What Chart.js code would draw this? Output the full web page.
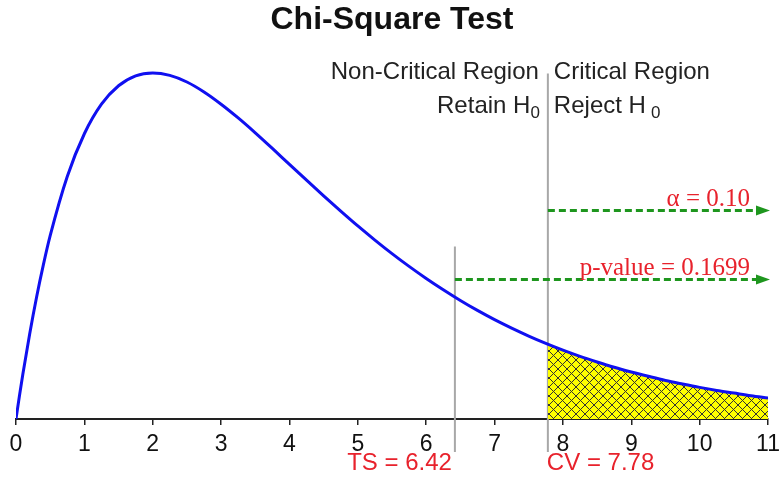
<!DOCTYPE html>
<html>
<head>
<meta charset="utf-8">
<script src="https://cdn.jsdelivr.net/npm/chart.js@4"></script>
<style>
  html, body { margin: 0; padding: 0; background: #fff; }
  #wrap { width: 780px; height: 477px; }
</style>
</head>
<body>
<div id="wrap"><canvas id="chiChart"></canvas></div>
<script>
// chi-square density
const chiX = [0, 0.05, 0.1, 0.2, 0.3, 0.4, 0.5, 0.75, 1, 1.25, 1.5, 1.75, 2, 2.25, 2.5, 2.75, 3, 3.25, 3.5, 3.75,
  4, 4.25, 4.5, 4.75, 5, 5.25, 5.5, 5.75, 6, 6.25, 6.5, 6.75, 7, 7.25, 7.5, 7.75, 8, 8.25, 8.5, 8.75,
  9, 9.25, 9.5, 9.75, 10, 10.25, 10.5, 10.75, 11];
const chiY = [0, 0.0122, 0.0238, 0.0452, 0.0646, 0.0819, 0.0974, 0.1289, 0.1516, 0.1673, 0.1771, 0.1824, 0.1839, 0.1826, 0.1791, 0.1738,
  0.1673, 0.1600, 0.1521, 0.1438, 0.1353, 0.1269, 0.1186, 0.1105, 0.1026, 0.0951, 0.0879, 0.0811, 0.0747, 0.0687, 0.0630, 0.0577,
  0.0528, 0.0483, 0.0441, 0.0402, 0.0366, 0.0333, 0.0303, 0.0275, 0.0250, 0.0227, 0.0205, 0.0186, 0.0168, 0.0152, 0.0138, 0.0124, 0.0112];

// shaded tail (critical region)
const tailX = [7.78, 8, 8.25, 8.5, 8.75, 9, 9.25, 9.5, 9.75, 10, 10.25, 10.5, 10.75, 11];
const tailY = [0.0398, 0.0366, 0.0333, 0.0303, 0.0275, 0.0250, 0.0227, 0.0205, 0.0186, 0.0168, 0.0152, 0.0138, 0.0124, 0.0112];

const xTicks = [0, 1, 2, 3, 4, 5, 6, 7, 8, 9, 10, 11];
const testStat = 6.42;
const critValue = 7.78;
const alphaText = 'α = 0.10';
const pValueText = 'p-value = 0.1699';

const red = 'rgb(232, 34, 44)';
const green = 'rgb(30, 150, 30)';

function hatchPattern() {
  const s = 9;
  const c = document.createElement('canvas');
  c.width = s; c.height = s;
  const g = c.getContext('2d');
  g.fillStyle = '#ffff00';
  g.fillRect(0, 0, s, s);
  g.strokeStyle = '#333';
  g.lineWidth = 1;
  g.beginPath();
  g.moveTo(0, 0); g.lineTo(s, s);
  g.moveTo(0, s); g.lineTo(s, 0);
  g.stroke();
  return g.createPattern(c, 'repeat');
}

function arrow(ctx, x0, x1, y) {
  ctx.save();
  ctx.strokeStyle = green;
  ctx.fillStyle = green;
  ctx.lineWidth = 3;
  ctx.setLineDash([7, 4]);
  ctx.beginPath();
  ctx.moveTo(x0, y); ctx.lineTo(x1 - 10, y);
  ctx.stroke();
  ctx.setLineDash([]);
  ctx.beginPath();
  ctx.moveTo(x1, y); ctx.lineTo(x1 - 14, y - 5); ctx.lineTo(x1 - 14, y + 5);
  ctx.closePath();
  ctx.fill();
  ctx.restore();
}

// text with subscript 0, anchored left or right
function withSub(ctx, text, x, y, align, gap) {
  ctx.font = '24px Arial';
  const w = ctx.measureText(text).width;
  ctx.font = '17px Arial';
  const ws = ctx.measureText('0').width;
  const left = align === 'right' ? x - w - gap - ws : x;
  ctx.textAlign = 'left';
  ctx.font = '24px Arial';
  ctx.fillText(text, left, y);
  ctx.font = '17px Arial';
  ctx.fillText('0', left + w + gap, y + 7);
}

const overlay = {
  id: 'overlay',
  beforeDatasetsDraw(chart) {
    const { ctx, chartArea, scales: { x } } = chart;
    const ts = x.getPixelForValue(testStat);
    const cv = x.getPixelForValue(critValue);
    ctx.save();
    ctx.strokeStyle = '#a8a8a8';
    ctx.lineWidth = 2;
    ctx.beginPath();
    ctx.moveTo(cv, chartArea.top + 17); ctx.lineTo(cv, chartArea.bottom + 33);
    ctx.moveTo(ts, chartArea.top + 190); ctx.lineTo(ts, chartArea.bottom + 33);
    ctx.stroke();
    ctx.restore();
  },
  afterDraw(chart) {
    const { ctx, chartArea, scales: { x } } = chart;
    const ts = x.getPixelForValue(testStat);
    const cv = x.getPixelForValue(critValue);
    const top = chartArea.top;
    ctx.save();
    ctx.textBaseline = 'middle';
    ctx.fillStyle = '#222';
    ctx.font = '24px Arial';
    ctx.textAlign = 'right';
    ctx.fillText('Non-Critical Region', cv - 9, top + 16);
    ctx.textAlign = 'left';
    ctx.fillText('Critical Region', cv + 6, top + 16);
    withSub(ctx, 'Retain H', cv - 8, top + 50, 'right', 0);
    withSub(ctx, 'Reject H', cv + 6, top + 50, 'left', 5);

    arrow(ctx, cv, chartArea.right + 2, top + 154);
    arrow(ctx, ts, chartArea.right + 2, top + 223);

    ctx.fillStyle = red;
    ctx.font = '25px "Liberation Serif", "Times New Roman", serif';
    ctx.textAlign = 'right';
    ctx.textBaseline = 'alphabetic';
    ctx.fillText(alphaText, chartArea.right - 18, top + 150);
    ctx.fillText(pValueText, chartArea.right - 18, top + 219);

    ctx.textBaseline = 'middle';
    ctx.font = '24px Arial';
    ctx.textAlign = 'right';
    ctx.fillText('TS = ' + testStat.toFixed(2), ts - 3, chartArea.bottom + 44);
    ctx.textAlign = 'left';
    ctx.fillText('CV = ' + critValue.toFixed(2), cv - 1, chartArea.bottom + 44);
    ctx.restore();
  }
};

new Chart(document.getElementById('chiChart'), {
  type: 'scatter',
  data: {
    datasets: [
      {
        data: chiX.map((v, i) => ({ x: v, y: chiY[i] })),
        showLine: true,
        borderColor: '#1010f0',
        borderWidth: 3,
        pointRadius: 0,
        cubicInterpolationMode: 'monotone',
        fill: false
      },
      {
        data: tailX.map((v, i) => ({ x: v, y: tailY[i] })),
        showLine: true,
        borderWidth: 0,
        borderColor: 'rgba(0,0,0,0)',
        pointRadius: 0,
        cubicInterpolationMode: 'monotone',
        fill: 'origin',
        backgroundColor: hatchPattern()
      }
    ]
  },
  options: {
    responsive: true,
    maintainAspectRatio: false,
    animation: false,
    layout: { padding: { left: 16, right: 12, top: 0, bottom: 0 } },
    plugins: {
      legend: { display: false },
      tooltip: { enabled: false },
      title: {
        display: true,
        text: 'Chi-Square Test',
        color: '#111',
        font: { family: 'Arial', size: 32, weight: 'bold' },
        padding: { top: 1, bottom: 17 }
      }
    },
    scales: {
      x: {
        type: 'linear',
        min: 0,
        max: 11,
        afterBuildTicks: (scale) => { scale.ticks = xTicks.map(v => ({ value: v })); },
        afterFit: (scale) => { scale.height = 58; scale.paddingLeft = 0; scale.paddingRight = 0; },
        ticks: { color: '#111', font: { family: 'Arial', size: 23 }, padding: 6, autoSkip: false, maxRotation: 0 },
        grid: { display: true, drawOnChartArea: false, drawTicks: true, tickLength: 6, color: '#222', lineWidth: 1.5 },
        border: { display: true, color: '#222', width: 2 }
      },
      y: {
        display: false,
        min: 0,
        max: 0.1927
      }
    }
  },
  plugins: [overlay]
});
</script>
</body>
</html>
